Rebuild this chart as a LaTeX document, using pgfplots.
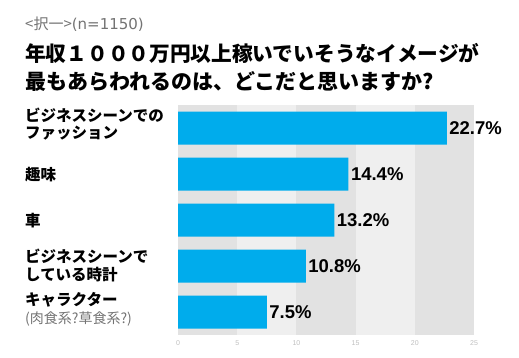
\documentclass[border=0pt]{standalone}
\usepackage{pgfplots}
\pgfplotsset{compat=1.18}
\usepackage{fontspec}
\setmainfont{Liberation Sans}
\newfontfamily\jp{Noto Sans CJK JP}
\newfontfamily\num{Liberation Sans}
\newfontfamily\dv{DejaVu Sans}
\definecolor{barc}{RGB}{0,172,236}
\definecolor{banddark}{RGB}{226,226,226}
\definecolor{bandlight}{RGB}{239,239,239}
\begin{document}
\begin{tikzpicture}[x=1pt,y=1pt]
\path (0,0) rectangle (519,357);
\node[anchor=base west, inner sep=0, text=black!55, font=\jp\fontsize{15}{15}\selectfont] at (25,327) {<択一>{\dv\fontsize{15}{15}\selectfont(n=1150)}};
\node[anchor=base west, inner sep=0, font=\jp\bfseries\fontsize{20.7}{20.7}\selectfont] at (25,295) {年収１０００万円以上稼いでいそうなイメージが};
\node[anchor=base west, inner sep=0, font=\jp\bfseries\fontsize{21}{21}\selectfont] at (25,268) {最もあらわれるのは、どこだと思いますか?};
\begin{axis}[
  at={(178pt,22pt)}, anchor=south west,
  scale only axis, width=296pt, height=230pt,
  xbar, bar width=33pt,
  xmin=0, xmax=25, ymin=-0.5, ymax=4.5,
  y dir=reverse,
  axis line style={draw=none},
  xtick={0,5,10,15,20,25},
  ytick={0,1,2,3,4},
  yticklabels={},
  tick style={draw=none},
  /pgf/number format/assume math mode=true,
  xticklabel style={font=\num\fontsize{7}{7}\selectfont, text=black!25, yshift=-2pt},
  clip=false,
  nodes near coords={\pgfmathprintnumber[fixed,precision=1,fixed zerofill,assume math mode=true]{\pgfplotspointmeta}\%},
  nodes near coords style={font=\num\bfseries\fontsize{18.5}{18.5}\selectfont, anchor=west, xshift=-1pt, text=black},
  point meta=x,
]
\fill[banddark] (axis cs:0,-0.5) rectangle (axis cs:5,4.5);
\fill[bandlight] (axis cs:5,-0.5) rectangle (axis cs:10,4.5);
\fill[banddark] (axis cs:10,-0.5) rectangle (axis cs:15,4.5);
\fill[bandlight] (axis cs:15,-0.5) rectangle (axis cs:20,4.5);
\fill[banddark] (axis cs:20,-0.5) rectangle (axis cs:25,4.5);
\addplot[fill=barc, draw=none] coordinates {(22.7,0) (14.4,1) (13.2,2) (10.8,3) (7.5,4)};
\end{axis}
\begin{scope}[every node/.style={anchor=base west, inner sep=0, font=\jp\bfseries\fontsize{15.5}{15.5}\selectfont}]
\node at (25,236) {ビジネスシーンでの};
\node at (25,219) {ファッション};
\node at (25,177) {趣味};
\node at (25,131) {車};
\node at (25,95) {ビジネスシーンで};
\node at (25,77) {している時計};
\node at (25,52) {キャラクター};
\node[font=\jp\fontsize{14}{14}\selectfont, text=black!55] at (25,34) {(肉食系?草食系?)};
\end{scope}
\end{tikzpicture}
\end{document}
